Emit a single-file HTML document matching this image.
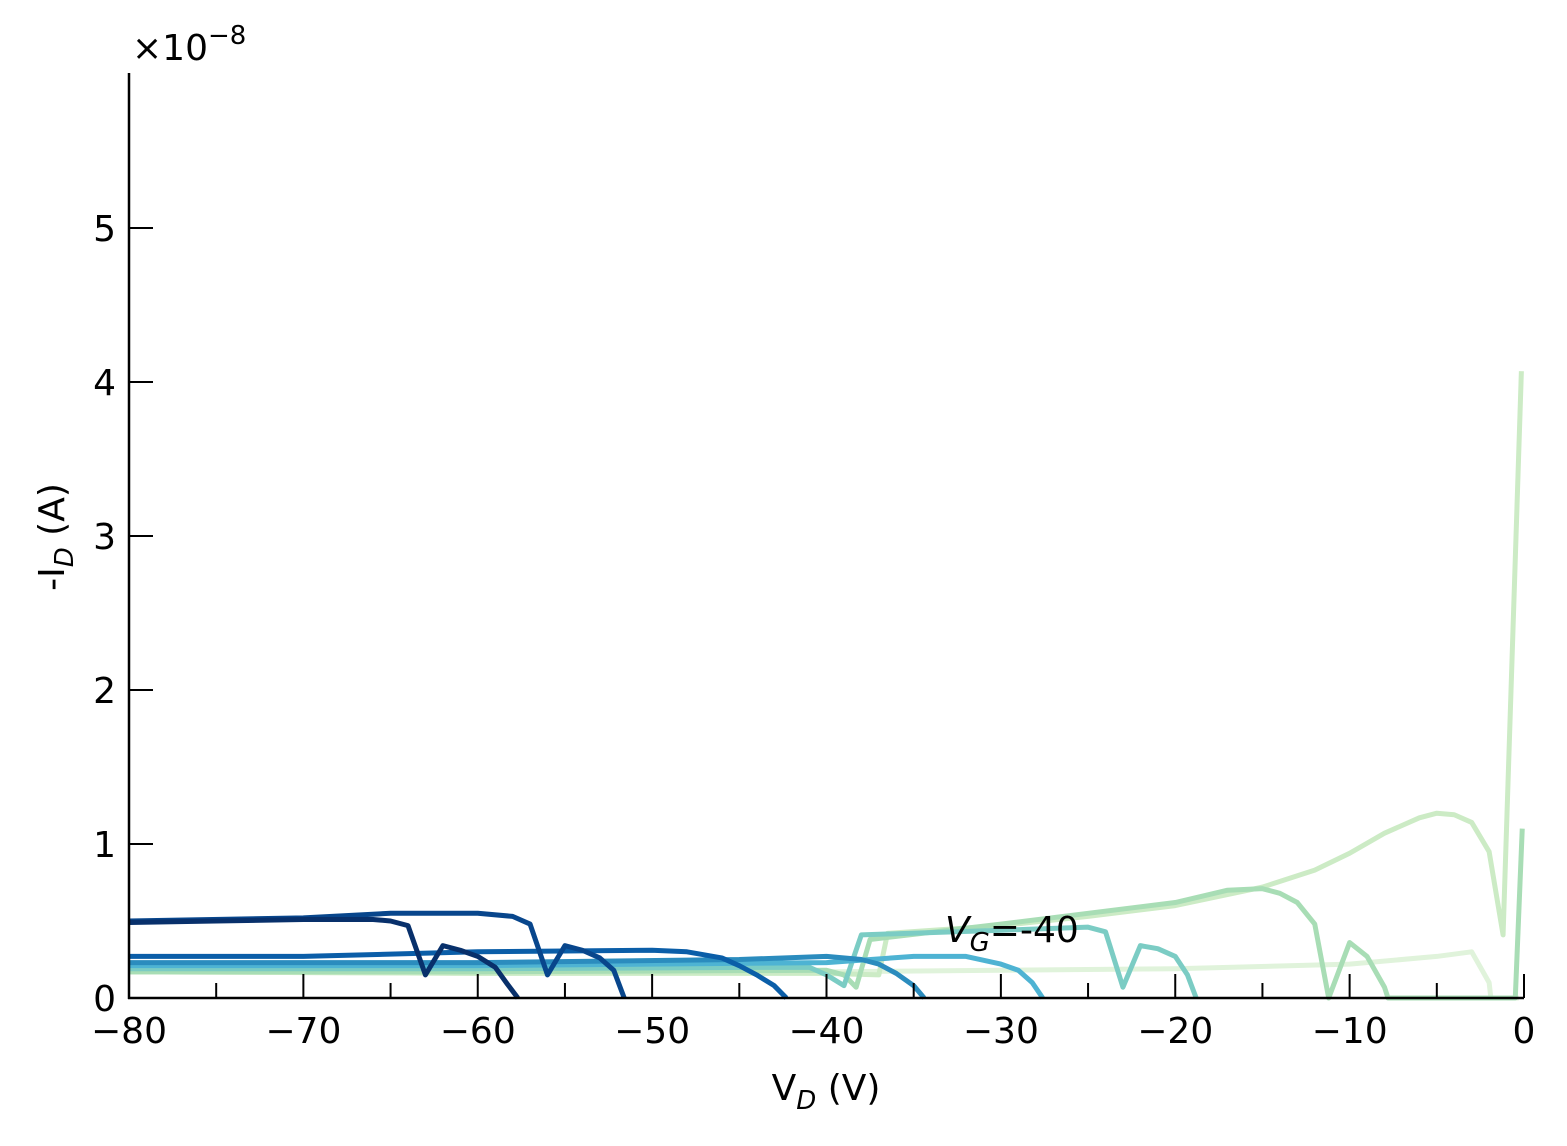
<!DOCTYPE html>
<html><head><meta charset="utf-8"><style>
body{margin:0;background:#fff;}
svg text{font-family:"DejaVu Sans","Liberation Sans",sans-serif;}
</style></head><body>
<svg id="chart" width="1567" height="1141" xmlns="http://www.w3.org/2000/svg">
<g id="series"></g>
<g id="axes"></g>
</svg>
<script>
const xTicks=[-80,-70,-60,-50,-40,-30,-20,-10,0];
const xMinor=[-75,-65,-55,-45,-35,-25,-15,-5];
const yTicks=[0,1,2,3,4,5];
const colors=["#08306b","#08468c","#0b5ea8","#2b8cbe","#4eb3d3","#7bccc4","#a8ddb5","#ccebc5","#e0f3db"];
const s1V=[-80,-75,-70,-66,-65,-64,-63,-62,-61,-60,-59,-58.3,-57.7];
const s1I=[0.49,0.50,0.51,0.51,0.50,0.47,0.15,0.34,0.31,0.27,0.2,0.09,0];
const s2V=[-80,-70,-65,-60,-58,-57,-56,-55,-54,-53,-52.2,-51.6];
const s2I=[0.50,0.52,0.55,0.55,0.53,0.48,0.15,0.34,0.31,0.26,0.18,0];
const s3V=[-80,-70,-60,-50,-48,-46,-45,-44,-43,-42.3];
const s3I=[0.27,0.27,0.30,0.31,0.30,0.26,0.21,0.15,0.08,0];
const s4V=[-80,-60,-45,-40,-38,-37,-36,-35,-34.4];
const s4I=[0.23,0.23,0.25,0.27,0.25,0.22,0.16,0.08,0];
const s5V=[-80,-60,-40,-35,-32,-30,-29,-28.2,-27.6];
const s5I=[0.21,0.21,0.23,0.27,0.27,0.22,0.18,0.1,0];
const s6V=[-80,-60,-41,-40,-39,-38,-30,-25,-24,-23,-22,-21,-20,-19.3,-18.8];
const s6I=[0.19,0.19,0.2,0.15,0.08,0.41,0.44,0.46,0.43,0.07,0.34,0.32,0.27,0.15,0];
const s7V=[-80,-60,-40,-39,-38.3,-37.5,-30,-25,-20,-17,-15,-14,-13,-12,-11.2,-10,-9,-8,-7.8,-0.5,-0.1];
const s7I=[0.17,0.17,0.18,0.15,0.07,0.38,0.48,0.55,0.62,0.7,0.71,0.68,0.62,0.48,0,0.36,0.27,0.07,0,0,1.1];
const s8V=[-80,-60,-40,-37,-36.5,-30,-25,-20,-15,-12,-10,-8,-6,-5,-4,-3,-2,-1.2,-0.15];
const s8I=[0.17,0.16,0.16,0.15,0.42,0.47,0.53,0.6,0.72,0.83,0.94,1.07,1.17,1.2,1.19,1.14,0.95,0.41,4.07];
const s9V=[-80,-60,-40,-30,-20,-10,-5,-3,-2,-1.9,-0.3];
const s9I=[0.17,0.16,0.17,0.18,0.19,0.22,0.27,0.3,0.1,0,0];
const seriesV=[s1V,s2V,s3V,s4V,s5V,s6V,s7V,s8V,s9V];
const seriesI=[s1I,s2I,s3I,s4I,s5I,s6I,s7I,s8I,s9I];
const NS="http://www.w3.org/2000/svg";
const X0=129,X1=1524,Y0=998,PPU=154;
const xs=v=>X0+(v+80)/80*(X1-X0);
const ys=i=>Y0-i*PPU;
const sg=document.getElementById('series');
for(let k=seriesV.length-1;k>=0;k--){
  const p=document.createElementNS(NS,'polyline');
  p.setAttribute('points',seriesV[k].map((v,j)=>xs(v)+','+ys(seriesI[k][j])).join(' '));
  p.setAttribute('fill','none');p.setAttribute('stroke',colors[k]);p.setAttribute('stroke-width','5');
  p.setAttribute('stroke-linejoin','round');
  
  
  sg.appendChild(p);
}
const ax=document.getElementById('axes');
function el(t,a,txt){const e=document.createElementNS(NS,t);for(const k in a)e.setAttribute(k,a[k]);if(txt!==undefined)e.textContent=txt;ax.appendChild(e);return e;}
let e;
e=el('line',{x1:X0,y1:73,x2:X0,y2:Y0+1,stroke:'#000','stroke-width':2.5});


e=el('line',{x1:X0-1,y1:Y0,x2:X1,y2:Y0,stroke:'#000','stroke-width':2.5});


xTicks.forEach(v=>{
  e=el('line',{x1:xs(v),y1:Y0,x2:xs(v),y2:Y0-24,stroke:'#000','stroke-width':2});
  
  
  e=el('text',{x:xs(v),y:Y0+45,'font-size':36,'text-anchor':'middle'},v<0?'\u2212'+(-v):''+v);
  
  
});
xMinor.forEach(v=>{
  e=el('line',{x1:xs(v),y1:Y0,x2:xs(v),y2:Y0-15,stroke:'#000','stroke-width':2});
  
  
});
yTicks.forEach(v=>{
  e=el('line',{x1:X0,y1:ys(v),x2:X0+24,y2:ys(v),stroke:'#000','stroke-width':2});
  
  
  e=el('text',{x:116,y:ys(v)+13,'font-size':36,'text-anchor':'end'},''+v);
  
  
});
e=el('text',{x:132,y:60,'font-size':36},'');
e.innerHTML='×10<tspan font-size="26" dy="-16">−8</tspan>';


e=el('text',{x:826,y:1100,'font-size':36,'text-anchor':'middle'},'');
e.innerHTML='V<tspan font-size="26" font-style="italic" dy="9">D</tspan><tspan dy="-9"> (V)</tspan>';


e=el('text',{x:0,y:0,'font-size':36,'text-anchor':'middle',transform:'translate(64,537) rotate(-90)'},'');
e.innerHTML='-I<tspan font-size="26" font-style="italic" dy="9">D</tspan><tspan dy="-9"> (A)</tspan>';


e=el('text',{x:945,y:942,'font-size':36},'');
e.innerHTML='<tspan font-style="italic">V</tspan><tspan font-size="26" font-style="italic" dy="9">G</tspan><tspan dy="-9">=-40</tspan>';


</script>
</body></html>
